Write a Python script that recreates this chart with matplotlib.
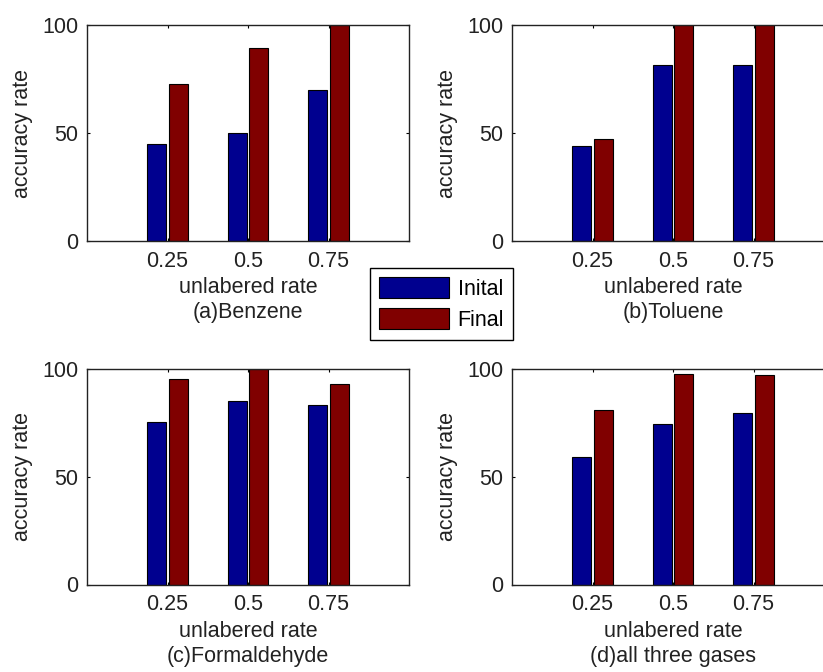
import matplotlib
matplotlib.use("Agg")
import matplotlib.pyplot as plt
import numpy as np

# ---- data ----
rates = [0.25, 0.5, 0.75]
rate_labels = ["0.25", "0.5", "0.75"]
series_names = ["Inital", "Final"]
panel_titles = ["(a)Benzene", "(b)Toluene", "(c)Formaldehyde", "(d)all three gases"]
benzene_initial = [45, 50, 70]
benzene_final = [72.5, 89.5, 100]
toluene_initial = [44, 81.5, 81.5]
toluene_final = [47, 100, 100]
formaldehyde_initial = [75.5, 85, 83.5]
formaldehyde_final = [95.3, 100, 93]
all_initial = [59.3, 74.5, 79.5]
all_final = [80.8, 97.8, 97.2]
y_ticks = [0, 50, 100]

panels = [
    (benzene_initial, benzene_final),
    (toluene_initial, toluene_final),
    (formaldehyde_initial, formaldehyde_final),
    (all_initial, all_final),
]

# ---- style ----
W, H = 823, 672
DPI = 100
plt.rcParams['font.family'] = ['Liberation Sans', 'DejaVu Sans']
FS = 15.5
c_blue = '#00008F'
c_red = '#800000'
c_text = '#222222'
bar_w = 0.059
off = 0.034

fig = plt.figure(figsize=(W / DPI, H / DPI), dpi=DPI)

def px_rect(left, top, right, bottom):
    return [left / W, 1 - bottom / H, (right - left) / W, (bottom - top) / H]

rects = [
    px_rect(87, 25, 409, 241),
    px_rect(512, 25, 834, 241),
    px_rect(87, 369, 409, 584.5),
    px_rect(512, 369, 834, 584.5),
]

x = np.array(rates)
handles = None
for i, ((ini, fin), title, r) in enumerate(zip(panels, panel_titles, rects)):
    ax = fig.add_axes(r)
    b1 = ax.bar(x - off, ini, width=bar_w, color=c_blue, edgecolor='black', linewidth=0.8)
    b2 = ax.bar(x + off, fin, width=bar_w, color=c_red, edgecolor='black', linewidth=0.8)
    handles = (b1, b2)
    ax.set_xlim(0, 1)
    ax.set_ylim(0, 100)
    ax.set_xticks(rates)
    ax.set_xticklabels(rate_labels, fontsize=FS, color=c_text)
    ax.set_yticks(y_ticks)
    ax.set_yticklabels([str(v) for v in y_ticks], fontsize=FS, color=c_text)
    ax.tick_params(direction='in', length=2.5, width=0.8, top=True, right=True,
                   pad=7)
    ax.tick_params(axis='y', pad=6)
    ax.set_xlabel("unlabered rate\n" + title, fontsize=FS, linespacing=1.25,
                  labelpad=4, color=c_text)
    ax.set_ylabel("accuracy rate", fontsize=FS, labelpad=7, color=c_text)
    for s in ax.spines.values():
        s.set_linewidth(1.0)
        s.set_color(c_text)

leg = fig.legend(handles, series_names, loc='upper left',
                 bbox_to_anchor=(370 / W, 1 - 268 / H), bbox_transform=fig.transFigure,
                 fontsize=FS, frameon=True, fancybox=False, framealpha=1,
                 edgecolor='black', handlelength=3.25, handleheight=1.15,
                 labelspacing=0.36, borderpad=0.42, handletextpad=0.4,
                 borderaxespad=0)
leg.get_frame().set_linewidth(1.0)

fig.savefig("out.png", dpi=DPI)
